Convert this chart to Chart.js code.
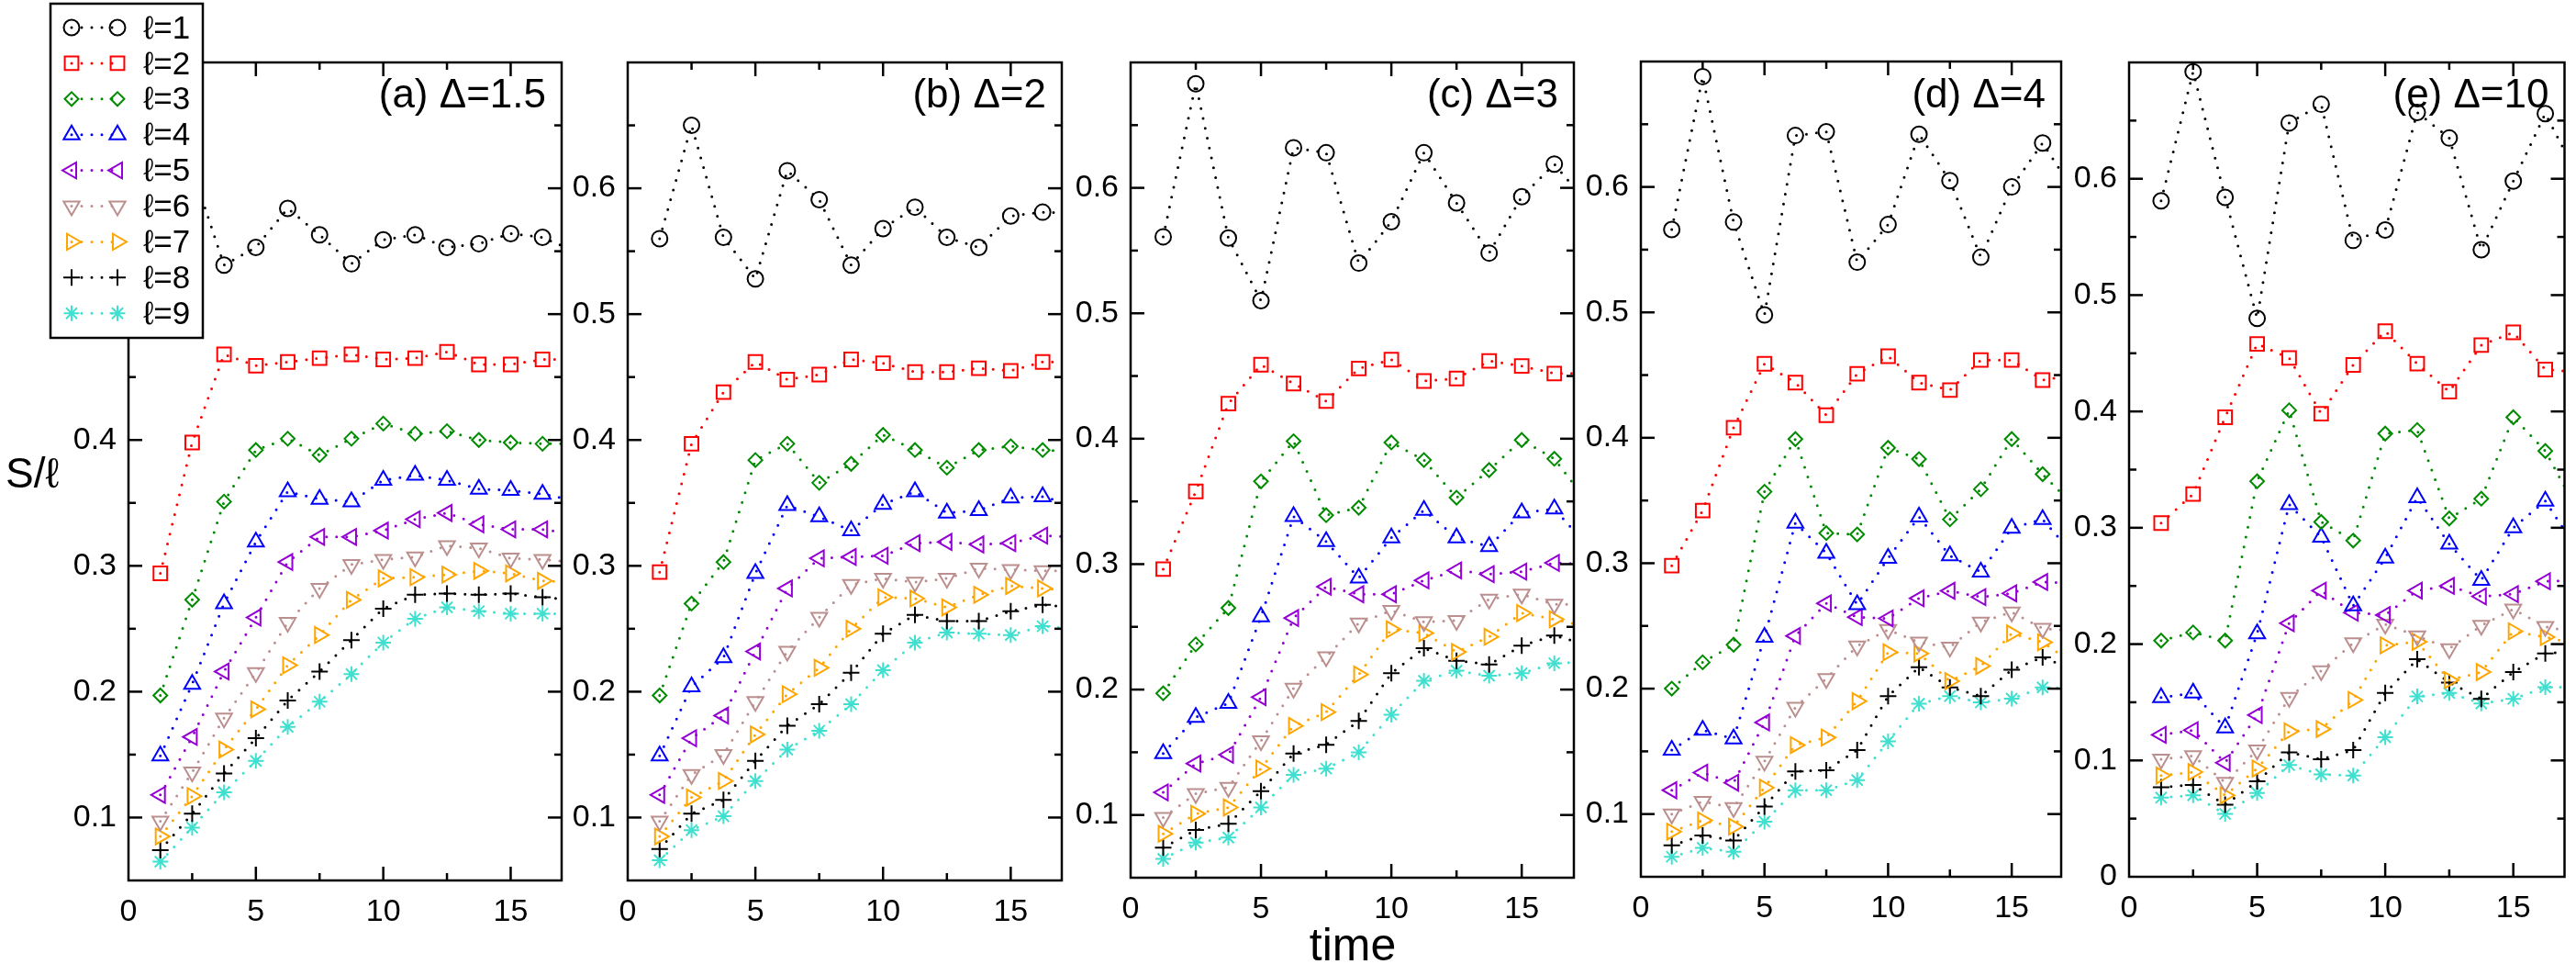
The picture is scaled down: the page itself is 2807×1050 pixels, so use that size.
<!DOCTYPE html>
<html>
<head>
<meta charset="utf-8">
<script src="https://cdn.jsdelivr.net/npm/chart.js@4.4.1/dist/chart.umd.min.js"></script>
<style>
html, body { margin: 0; padding: 0; background: #fff; }
#wrap { position: relative; width: 2807px; height: 1050px; overflow: hidden; }
canvas { position: absolute; left: 0; top: 0; }
</style>
</head>
<body>
<div id="wrap">
  <canvas id="pa" width="2807" height="1050"></canvas>
  <canvas id="pb" width="2807" height="1050"></canvas>
  <canvas id="pc" width="2807" height="1050"></canvas>
  <canvas id="pd" width="2807" height="1050"></canvas>
  <canvas id="pe" width="2807" height="1050"></canvas>
</div>
<script>
// time points (same for every panel); the last one lies past the axis end, only its line stub shows
var times = [1.25, 2.5, 3.75, 5, 6.25, 7.5, 8.75, 10, 11.25, 12.5, 13.75, 15, 16.25, 17.5];
var ells = ['ℓ=1', 'ℓ=2', 'ℓ=3', 'ℓ=4', 'ℓ=5', 'ℓ=6', 'ℓ=7', 'ℓ=8', 'ℓ=9'];
var xTicks = [0, 5, 10, 15];

// S/l, one row per l = 1..9
var panelA = [
    [0.565, 0.615, 0.539, 0.553, 0.584, 0.563, 0.540, 0.559, 0.563, 0.553, 0.556, 0.564, 0.561, 0.550],
    [0.294, 0.398, 0.468, 0.459, 0.462, 0.465, 0.468, 0.464, 0.465, 0.470, 0.460, 0.460, 0.464, 0.464],
    [0.197, 0.273, 0.351, 0.392, 0.401, 0.388, 0.401, 0.413, 0.405, 0.407, 0.400, 0.398, 0.397, 0.397],
    [0.149, 0.206, 0.270, 0.319, 0.359, 0.353, 0.351, 0.368, 0.372, 0.368, 0.361, 0.360, 0.357, 0.352],
    [0.118, 0.164, 0.216, 0.259, 0.303, 0.323, 0.323, 0.328, 0.337, 0.342, 0.333, 0.329, 0.329, 0.325],
    [0.097, 0.136, 0.179, 0.215, 0.255, 0.282, 0.301, 0.305, 0.307, 0.316, 0.314, 0.306, 0.305, 0.303],
    [0.085, 0.117, 0.154, 0.186, 0.221, 0.245, 0.273, 0.290, 0.291, 0.293, 0.296, 0.294, 0.288, 0.287],
    [0.074, 0.103, 0.135, 0.163, 0.193, 0.216, 0.241, 0.266, 0.277, 0.278, 0.277, 0.278, 0.275, 0.273],
    [0.065, 0.092, 0.120, 0.145, 0.172, 0.192, 0.214, 0.239, 0.258, 0.267, 0.264, 0.262, 0.262, 0.262]
];
var panelB = [
    [0.560, 0.650, 0.561, 0.528, 0.614, 0.591, 0.539, 0.568, 0.585, 0.561, 0.553, 0.578, 0.581, 0.580],
    [0.295, 0.397, 0.438, 0.462, 0.448, 0.452, 0.464, 0.461, 0.454, 0.454, 0.457, 0.455, 0.462, 0.462],
    [0.197, 0.270, 0.303, 0.384, 0.397, 0.366, 0.381, 0.404, 0.392, 0.378, 0.392, 0.395, 0.392, 0.391],
    [0.149, 0.204, 0.227, 0.294, 0.348, 0.339, 0.328, 0.349, 0.359, 0.342, 0.344, 0.354, 0.355, 0.348],
    [0.118, 0.163, 0.181, 0.232, 0.282, 0.306, 0.307, 0.308, 0.318, 0.319, 0.317, 0.318, 0.324, 0.323],
    [0.097, 0.134, 0.150, 0.192, 0.232, 0.259, 0.285, 0.290, 0.287, 0.290, 0.298, 0.297, 0.296, 0.296],
    [0.085, 0.116, 0.129, 0.166, 0.198, 0.219, 0.250, 0.275, 0.274, 0.267, 0.277, 0.284, 0.282, 0.280],
    [0.075, 0.103, 0.114, 0.145, 0.173, 0.190, 0.215, 0.246, 0.261, 0.256, 0.256, 0.264, 0.269, 0.267],
    [0.066, 0.090, 0.101, 0.129, 0.154, 0.169, 0.190, 0.217, 0.239, 0.247, 0.246, 0.245, 0.252, 0.250]
];
var panelC = [
    [0.561, 0.683, 0.560, 0.510, 0.632, 0.628, 0.540, 0.573, 0.628, 0.588, 0.548, 0.593, 0.619, 0.588],
    [0.296, 0.358, 0.428, 0.459, 0.444, 0.430, 0.456, 0.463, 0.446, 0.448, 0.462, 0.458, 0.452, 0.452],
    [0.197, 0.236, 0.265, 0.366, 0.398, 0.339, 0.345, 0.397, 0.383, 0.353, 0.375, 0.399, 0.384, 0.350],
    [0.149, 0.178, 0.189, 0.258, 0.338, 0.318, 0.289, 0.321, 0.343, 0.321, 0.314, 0.341, 0.344, 0.315],
    [0.118, 0.141, 0.148, 0.194, 0.257, 0.282, 0.276, 0.276, 0.287, 0.295, 0.292, 0.294, 0.301, 0.300],
    [0.098, 0.117, 0.122, 0.159, 0.201, 0.226, 0.253, 0.263, 0.254, 0.255, 0.272, 0.276, 0.268, 0.268],
    [0.085, 0.101, 0.106, 0.137, 0.171, 0.182, 0.212, 0.248, 0.245, 0.230, 0.242, 0.261, 0.256, 0.250],
    [0.074, 0.088, 0.093, 0.119, 0.149, 0.156, 0.175, 0.213, 0.233, 0.223, 0.220, 0.235, 0.243, 0.236],
    [0.065, 0.078, 0.082, 0.106, 0.132, 0.137, 0.150, 0.180, 0.207, 0.215, 0.211, 0.213, 0.221, 0.222]
];
var panelD = [
    [0.566, 0.688, 0.572, 0.498, 0.641, 0.644, 0.540, 0.570, 0.642, 0.605, 0.544, 0.600, 0.635, 0.597],
    [0.298, 0.342, 0.408, 0.459, 0.444, 0.418, 0.451, 0.465, 0.444, 0.438, 0.462, 0.462, 0.446, 0.450],
    [0.200, 0.221, 0.235, 0.357, 0.399, 0.324, 0.323, 0.392, 0.383, 0.335, 0.359, 0.399, 0.371, 0.346],
    [0.151, 0.167, 0.160, 0.241, 0.332, 0.308, 0.267, 0.304, 0.337, 0.306, 0.293, 0.328, 0.335, 0.307],
    [0.119, 0.133, 0.125, 0.173, 0.242, 0.268, 0.257, 0.256, 0.272, 0.278, 0.273, 0.276, 0.285, 0.284],
    [0.100, 0.110, 0.105, 0.142, 0.185, 0.208, 0.234, 0.247, 0.237, 0.233, 0.253, 0.261, 0.248, 0.246],
    [0.086, 0.095, 0.090, 0.121, 0.155, 0.161, 0.190, 0.229, 0.228, 0.206, 0.218, 0.244, 0.237, 0.220],
    [0.075, 0.083, 0.079, 0.106, 0.134, 0.135, 0.151, 0.194, 0.217, 0.201, 0.194, 0.215, 0.225, 0.215],
    [0.066, 0.073, 0.070, 0.094, 0.119, 0.119, 0.127, 0.158, 0.188, 0.194, 0.189, 0.192, 0.201, 0.200]
];
var panelE = [
    [0.581, 0.692, 0.584, 0.480, 0.648, 0.664, 0.547, 0.556, 0.657, 0.635, 0.539, 0.598, 0.656, 0.603],
    [0.304, 0.329, 0.395, 0.458, 0.446, 0.398, 0.440, 0.469, 0.441, 0.417, 0.457, 0.468, 0.436, 0.434],
    [0.203, 0.210, 0.203, 0.340, 0.401, 0.305, 0.289, 0.381, 0.384, 0.308, 0.325, 0.395, 0.366, 0.315],
    [0.154, 0.158, 0.128, 0.209, 0.320, 0.292, 0.233, 0.274, 0.326, 0.286, 0.255, 0.300, 0.323, 0.281],
    [0.122, 0.126, 0.098, 0.139, 0.218, 0.246, 0.227, 0.225, 0.246, 0.250, 0.241, 0.243, 0.254, 0.255],
    [0.101, 0.104, 0.081, 0.109, 0.154, 0.177, 0.201, 0.217, 0.207, 0.196, 0.216, 0.230, 0.215, 0.210],
    [0.087, 0.090, 0.070, 0.093, 0.125, 0.127, 0.152, 0.199, 0.202, 0.169, 0.176, 0.211, 0.206, 0.200],
    [0.077, 0.079, 0.062, 0.082, 0.107, 0.101, 0.109, 0.158, 0.187, 0.167, 0.153, 0.176, 0.192, 0.194],
    [0.068, 0.070, 0.054, 0.072, 0.096, 0.088, 0.087, 0.120, 0.155, 0.158, 0.149, 0.153, 0.163, 0.163]
];

var COLORS = ['#000000', '#ff0000', '#008b00', '#0000ff', '#9400d3', '#bc8f8f', '#ffa500', '#000000', '#40e0d0'];
var STYLES = ['circle', 'rect', 'rectRot', 'triangle', 'triangle', 'triangle', 'triangle', 'cross', 'star'];
var ROTS   = [0, 0, 0, 0, -90, 180, 90, 0, 0];
var RADII  = [8.5, 10.5, 7.5, 10, 10, 10, 10, 9, 8.5];
var FONT = '"Liberation Sans", Arial, Helvetica, sans-serif';

function line(ctx, x1, y1, x2, y2) {
    ctx.beginPath(); ctx.moveTo(x1, y1); ctx.lineTo(x2, y2); ctx.stroke();
}

function marker(ctx, i, x, y) {
    ctx.save();
    ctx.strokeStyle = COLORS[i];
    ctx.fillStyle = 'rgba(0,0,0,0)';
    ctx.lineWidth = 2;
    Chart.helpers.drawPoint(ctx, { pointStyle: STYLES[i], rotation: ROTS[i], radius: RADII[i], borderWidth: 2 }, x, y);
    ctx.restore();
}

// frame, inward ticks on all sides, panel title (+ legend and axis titles on panel a)
var framePlugin = {
    id: 'frame',
    afterDraw: function(chart, args, opts) {
        var ctx = chart.ctx, a = chart.chartArea, x = chart.scales.x, y = chart.scales.y;
        ctx.save();
        ctx.strokeStyle = '#000';
        ctx.lineWidth = 2.5;
        for (var k = 1; k * 2.5 < 17; k++) {
            var px = x.getPixelForValue(k * 2.5), len = (k % 2 === 0) ? 15 : 8;
            line(ctx, px, a.bottom, px, a.bottom - len);
            line(ctx, px, a.top, px, a.top + len);
        }
        var k0 = Math.round(y.min * 20), k1 = Math.round(y.max * 20);
        for (var j = k0 + 1; j < k1; j++) {
            var py = y.getPixelForValue(j / 20), l2 = (j % 2 === 0) ? 15 : 8;
            line(ctx, a.left, py, a.left + l2, py);
            line(ctx, a.right, py, a.right - l2, py);
        }
        ctx.strokeRect(a.left, a.top, a.right - a.left, a.bottom - a.top);
        ctx.fillStyle = '#000';
        ctx.font = '44px ' + FONT;
        ctx.textAlign = 'right';
        ctx.textBaseline = 'alphabetic';
        ctx.fillText(opts.title, a.right - 17, 117);

        if (opts.legend) {
            ctx.font = '46px ' + FONT;
            ctx.textAlign = 'left';
            ctx.fillText('S/ℓ', 6, 531);
            ctx.font = '50px ' + FONT;
            ctx.textAlign = 'center';
            ctx.fillText('time', 1474, 1046);

            ctx.fillStyle = '#fff';
            ctx.fillRect(55, 4, 166, 364);
            ctx.lineWidth = 2.5;
            ctx.strokeStyle = '#000';
            ctx.strokeRect(55, 4, 166, 364);
            ctx.font = '35px ' + FONT;
            ctx.textAlign = 'left';
            ctx.textBaseline = 'middle';
            for (var i = 0; i < ells.length; i++) {
                var ly = 30 + 38.9 * i;
                ctx.save();
                ctx.strokeStyle = COLORS[i];
                ctx.lineWidth = 3;
                ctx.lineCap = 'round';
                ctx.setLineDash([0, 11]);
                line(ctx, 78, ly, 128, ly);
                ctx.restore();
                marker(ctx, i, 78, ly);
                marker(ctx, i, 128, ly);
                ctx.fillStyle = '#000';
                ctx.fillText(ells[i], 156, ly + 2);
            }
        }
        ctx.restore();
    }
};

function makePanel(id, rows, title, left, right, top, bottom, yMin, withLegend) {
    var W = 2807, H = 1050, yW = 70, xH = 60;
    new Chart(document.getElementById(id), {
        type: 'line',
        data: {
            datasets: rows.map(function(vals, i) {
                return {
                    label: ells[i],
                    data: vals.map(function(v, j) { return { x: times[j], y: v }; }),
                    borderColor: COLORS[i],
                    borderWidth: 3,
                    borderDash: [0, 11],
                    borderCapStyle: 'round',
                    pointStyle: STYLES[i],
                    pointRotation: ROTS[i],
                    pointRadius: RADII[i],
                    pointBorderWidth: 2,
                    pointBorderColor: COLORS[i],
                    pointBackgroundColor: 'rgba(0,0,0,0)',
                    tension: 0,
                    fill: false
                };
            })
        },
        options: {
            responsive: false,
            animation: false,
            events: [],
            layout: { padding: { left: left - yW, right: W - right, top: top, bottom: H - bottom - xH } },
            plugins: {
                legend: { display: false },
                tooltip: { enabled: false },
                frame: { title: title, legend: withLegend }
            },
            scales: {
                x: {
                    type: 'linear', min: 0, max: 17,
                    grid: { display: false, drawTicks: false },
                    border: { display: false },
                    afterFit: function(s) { s.height = xH; },
                    ticks: {
                        stepSize: 2.5, includeBounds: false, autoSkip: false, maxRotation: 0, padding: 14,
                        color: '#000', font: { family: FONT, size: 34 },
                        callback: function(v) { return xTicks.indexOf(v) >= 0 ? String(v) : ''; }
                    }
                },
                y: {
                    type: 'linear', min: yMin, max: 0.7,
                    grid: { display: false, drawTicks: false },
                    border: { display: false },
                    afterFit: function(s) { s.width = yW; },
                    ticks: {
                        stepSize: 0.05, includeBounds: false, autoSkip: false, padding: 13,
                        color: '#000', font: { family: FONT, size: 34 },
                        callback: function(v) {
                            var k = Math.round(v * 100);
                            if (k % 10 !== 0 || k >= 70) return '';
                            return k === 0 ? '0' : String(k / 100);
                        }
                    }
                }
            }
        },
        plugins: [framePlugin]
    });
}

makePanel('pa', panelA, '(a) Δ=1.5', 140, 612, 68, 959, 0.05, true);
makePanel('pb', panelB, '(b) Δ=2',   684, 1157, 68, 959, 0.05, false);
makePanel('pc', panelC, '(c) Δ=3',   1232, 1715, 68, 956, 0.05, false);
makePanel('pd', panelD, '(d) Δ=4',   1788, 2246, 67, 955, 0.05, false);
makePanel('pe', panelE, '(e) Δ=10',  2320, 2801, 68, 955, 0, false);
</script>
</body>
</html>
